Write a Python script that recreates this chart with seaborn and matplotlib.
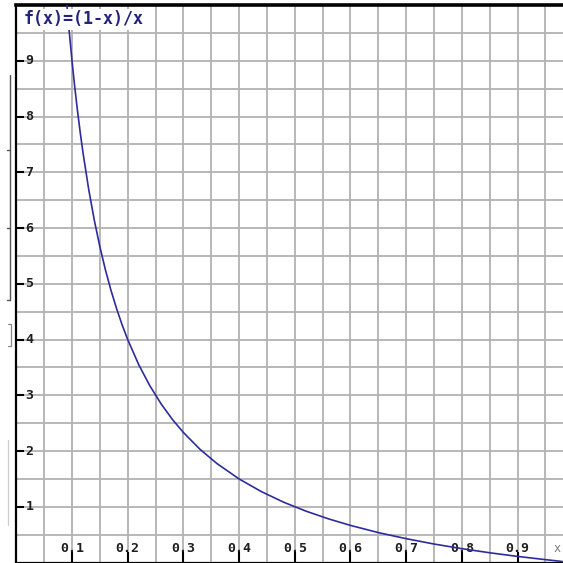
import matplotlib
matplotlib.use("Agg")
import matplotlib.pyplot as plt
from matplotlib.ticker import MultipleLocator
from matplotlib.lines import Line2D
import seaborn as sns
import pandas as pd

# Sampled points of f(x) = (1 - x) / x
x_vals = [0.0909, 0.095, 0.10, 0.105, 0.11, 0.115, 0.12, 0.13, 0.14, 0.15,
          0.16, 0.17, 0.18, 0.19, 0.20, 0.22, 0.24, 0.26, 0.28, 0.30,
          0.33, 0.36, 0.40, 0.44, 0.48, 0.52, 0.56, 0.60, 0.65, 0.70,
          0.75, 0.80, 0.85, 0.90, 0.95, 0.98]
y_vals = [10.0, 9.526, 9.0, 8.524, 8.091, 7.696, 7.333, 6.692, 6.143, 5.667,
          5.25, 4.882, 4.556, 4.263, 4.0, 3.545, 3.167, 2.846, 2.571, 2.333,
          2.030, 1.778, 1.5, 1.273, 1.083, 0.923, 0.786, 0.667, 0.538, 0.429,
          0.333, 0.25, 0.176, 0.111, 0.053, 0.020]

x_ticks = [0.1, 0.2, 0.3, 0.4, 0.5, 0.6, 0.7, 0.8, 0.9]
x_tick_labels = ["0.1", "0.2", "0.3", "0.4", "0.5", "0.6", "0.7", "0.8", "0.9"]
y_ticks = [1, 2, 3, 4, 5, 6, 7, 8, 9]
y_tick_labels = ["1", "2", "3", "4", "5", "6", "7", "8", "9"]
title_text = "f(x)=(1-x)/x"
x_name = "x"

df = pd.DataFrame({"x": x_vals, "y": y_vals})

sns.set_style("white")
plt.rcParams["font.family"] = ["DejaVu Sans Mono", "DejaVu Sans"]

W = H = 563
fig = plt.figure(figsize=(W / 100, H / 100), dpi=100)
left_px, right_px, top_px, bottom_px = 16.3, 563.0, 5.0, 562.6
ax = fig.add_axes([left_px / W, (H - bottom_px) / H,
                   (right_px - left_px) / W, (bottom_px - top_px) / H])

grid_col = "#b2b2b2"
sns.lineplot(data=df, x="x", y="y", ax=ax, sort=False, color="#2c2c9c",
             linewidth=1.2, zorder=3)

ax.set_xlim(0, (right_px - left_px) / 557.0)
ax.set_ylim(0, 10)

ax.xaxis.set_minor_locator(MultipleLocator(0.05))
ax.yaxis.set_minor_locator(MultipleLocator(0.5))
ax.set_xticks(x_ticks)
ax.set_xticklabels(x_tick_labels)
ax.set_yticks(y_ticks)
ax.set_yticklabels(y_tick_labels)
ax.grid(True, which="both", color=grid_col, linewidth=1.3, zorder=0)
ax.set_axisbelow(True)

ax.tick_params(axis="x", which="major", bottom=True, direction="in",
               length=8, width=1.5, color="black", pad=-5.5,
               labelsize=9.5, labelcolor="#1e1e1e")
ax.tick_params(axis="y", which="major", left=True, direction="in",
               length=5.8, width=1.5, color="black", pad=-6.5,
               labelsize=9.5, labelcolor="#1e1e1e")
ax.tick_params(which="minor", length=0)
for lab in ax.get_xticklabels():
    lab.set_verticalalignment("bottom")
    lab.set_fontweight("bold")
for lab in ax.get_yticklabels():
    lab.set_horizontalalignment("left")
    lab.set_verticalalignment("center")
    lab.set_fontweight("bold")

ax.set_xlabel("")
ax.set_ylabel("")

for side in ["left", "bottom"]:
    ax.spines[side].set_color("black")
    ax.spines[side].set_linewidth(1.6)
ax.spines["top"].set_color("black")
ax.spines["top"].set_linewidth(2.6)
ax.spines["right"].set_visible(False)

ax.text(0.013, 9.74, title_text, fontsize=12, fontweight="bold",
        color="#23237e", ha="left", va="center", zorder=5,
        bbox=dict(facecolor="white", edgecolor="none", pad=0.8))
ax.text(0.971, 0.26, x_name, fontsize=8.5, color="#777777",
        ha="center", va="center", zorder=5)

# faint bracket marks to the left of the value axis
def fig_line(xs, ys, **kw):
    fig.add_artist(Line2D([v / W for v in xs], [1 - v / H for v in ys],
                          transform=fig.transFigure, **kw))

fig_line([10, 10], [75, 300], color="#555555", linewidth=1.0)
fig_line([7, 10], [150, 150], color="#555555", linewidth=1.0)
fig_line([7, 10], [228, 228], color="#555555", linewidth=1.0)
fig_line([7, 10], [300, 300], color="#555555", linewidth=1.0)
fig_line([8, 11, 11, 8], [324, 324, 346, 346], color="#888888", linewidth=0.9)
fig_line([8, 8], [440, 525], color="#cccccc", linewidth=0.9)

fig.savefig("out.png", dpi=100)
